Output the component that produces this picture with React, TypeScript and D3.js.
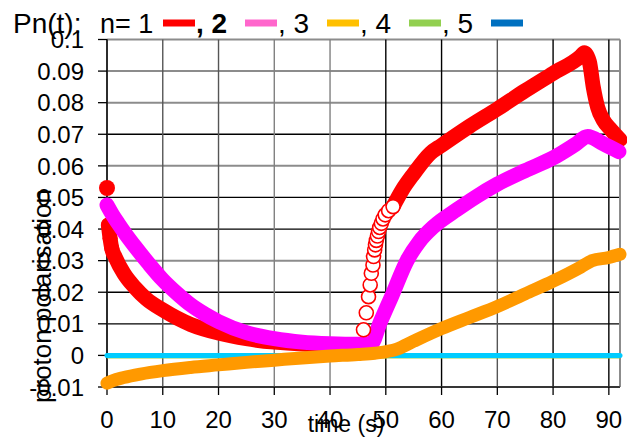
import React from "react";
import * as d3 from "d3";

// ---- data -------------------------------------------------------------
// n = 1 (red): first marker, continuous decay, fast recovery (hollow), rise & drop
const redStartTime = [0];
const redStartVal = [0.053];
const redDecayTime = [0.25, 0.55, 0.85, 1.5, 3, 5, 7, 10, 15, 20, 25, 30, 35, 40, 46];
const redDecayVal = [0.0413, 0.0371, 0.0339, 0.031, 0.026, 0.0215, 0.018, 0.0144, 0.0098, 0.0071, 0.0053, 0.0042, 0.0036, 0.0034, 0.0033];
const redHollowTime = [46.0, 46.5, 46.9, 47.2, 47.4, 47.7, 47.8, 48.0, 48.15, 48.3, 48.5, 48.7, 48.9, 49.2, 49.5, 49.9, 50.5, 51.3];
const redHollowVal = [0.0081, 0.0135, 0.0186, 0.0223, 0.026, 0.0286, 0.0313, 0.0334, 0.035, 0.0364, 0.0378, 0.0392, 0.0405, 0.0418, 0.0432, 0.0445, 0.0458, 0.0471];
const redRiseTime = [51.3, 53, 55, 58, 60, 65, 70, 75, 80, 85, 85.6, 86.5, 87.2, 88, 89, 90.4, 92];
const redRiseVal = [0.0471, 0.0525, 0.0575, 0.064, 0.0665, 0.0725, 0.078, 0.0838, 0.0893, 0.0948, 0.0958, 0.093, 0.085, 0.0785, 0.0745, 0.0714, 0.0683];

// n = 2 (magenta)
const pinkTime = [0, 1, 2, 3.5, 5, 7.5, 10, 12.5, 15, 17.5, 20, 25, 30, 35, 40, 45, 47.3, 49, 51, 53.8, 56, 58.6, 62.8, 66, 70, 75, 80, 84, 86.2, 89, 91.8];
const pinkVal = [0.0476, 0.0445, 0.0418, 0.038, 0.0345, 0.029, 0.0239, 0.0197, 0.016, 0.0131, 0.0107, 0.0072, 0.0053, 0.0042, 0.0037, 0.0035, 0.0035, 0.0105, 0.0185, 0.03, 0.036, 0.0408, 0.0462, 0.05, 0.0542, 0.0585, 0.0625, 0.0668, 0.0693, 0.067, 0.0645];

// n = 3 (orange)
const orangeTime = [0, 1, 3, 6, 10, 15, 20, 25, 30, 35, 40, 45, 48, 52, 55, 60, 65, 70, 75, 80, 85, 87, 90, 92];
const orangeVal = [-0.0088, -0.008, -0.007, -0.0059, -0.0048, -0.0038, -0.003, -0.0022, -0.0015, -0.0008, -0.0002, 0.0003, 0.0007, 0.002, 0.0045, 0.0085, 0.012, 0.0155, 0.0195, 0.0235, 0.028, 0.03, 0.031, 0.032];

// n = 4 (green) and n = 5 (cyan) stay at zero
const greenTime = [0, 92];
const greenVal = [-0.0002, -0.0002];
const cyanTime = [0, 92];
const cyanVal = [0, 0];

const xTicks = [0, 10, 20, 30, 40, 50, 60, 70, 80, 90];
const yTicks = [-0.01, 0, 0.01, 0.02, 0.03, 0.04, 0.05, 0.06, 0.07, 0.08, 0.09, 0.1];
const yTickLabels = ["-0.01", "0", "0.01", "0.02", "0.03", "0.04", "0.05", "0.06", "0.07", "0.08", "0.09", "0.1"];

const legendNames = ["1", "2", "3", "4", "5"];
const legendColors = ["#FF0000", "#FF66CC", "#FFC000", "#92D050", "#0070C0"];

// ---- layout -----------------------------------------------------------
const W = 627;
const H = 438;
const left = 107;
const right = 620;
const top = 39.5;
const bottom = 387;

const x = d3.scaleLinear().domain([0, 92]).range([left, right]);
const y = d3.scaleLinear().domain([-0.01, 0.1]).range([bottom, top]);

const zip = (t: number[], v: number[]) => t.map((d, i) => [d, v[i]] as [number, number]);
const line = d3
  .line<[number, number]>()
  .x((d) => x(d[0]))
  .y((d) => y(d[1]))
  .curve(d3.curveMonotoneX);
const lineLinear = d3
  .line<[number, number]>()
  .x((d) => x(d[0]))
  .y((d) => y(d[1]));

const grayH = new Set(["0.1", "0.09", "0.08", "0.06", "0.03", "0"]);
const vColor: Record<number, string> = { 10: "#555", 20: "#555", 30: "#808080", 40: "#808080", 70: "#555" };

const FONT = "'Liberation Sans', Arial, sans-serif";

export default function App() {
  return (
    <svg
      width={W}
      height={H}
      style={{ position: "absolute", left: 0, top: 0, background: "#fff" }}
      fontFamily={FONT}
    >
      {/* horizontal gridlines */}
      {yTicks.map((t, i) => {
        const gray = grayH.has(yTickLabels[i]);
        return (
          <line
            key={"h" + i}
            x1={left}
            x2={right}
            y1={y(t)}
            y2={y(t)}
            stroke={gray ? "#8c8c8c" : "#000"}
            strokeWidth={gray ? 2 : 1.3}
          />
        );
      })}
      {/* vertical gridlines */}
      {xTicks.map((t) => (
        <line
          key={"v" + t}
          x1={x(t)}
          x2={x(t)}
          y1={top}
          y2={bottom}
          stroke={vColor[t] ?? "#000"}
          strokeWidth={1.4}
        />
      ))}
      {/* right border */}
      <line x1={right} x2={right} y1={top} y2={bottom} stroke="#8c8c8c" strokeWidth={2} />

      {/* axes */}
      <line x1={left} x2={left} y1={top} y2={bottom} stroke="#222" strokeWidth={1.5} />
      <line x1={left} x2={right} y1={bottom} y2={bottom} stroke="#333" strokeWidth={1.5} />
      {yTicks.map((t, i) => (
        <line key={"yt" + i} x1={left - 9} x2={left} y1={y(t)} y2={y(t)} stroke="#000" strokeWidth={1.3} />
      ))}
      {xTicks.map((t) => (
        <line key={"xt" + t} x1={x(t)} x2={x(t)} y1={bottom} y2={bottom + 8} stroke="#000" strokeWidth={1.3} />
      ))}

      {/* series */}
      <path d={lineLinear(zip(greenTime, greenVal)) ?? ""} fill="none" stroke="#92D050" strokeWidth={5} />
      <path d={lineLinear(zip(cyanTime, cyanVal)) ?? ""} fill="none" stroke="#00CCFF" strokeWidth={5} strokeLinecap="round" />
      <path d={line(zip(redDecayTime, redDecayVal)) ?? ""} fill="none" stroke="#FF0000" strokeWidth={15} strokeLinecap="round" strokeLinejoin="round" />
      <path d={line(zip(redRiseTime, redRiseVal)) ?? ""} fill="none" stroke="#FF0000" strokeWidth={15} strokeLinecap="round" strokeLinejoin="round" />
      {zip(redDecayTime.slice(0, 3), redDecayVal.slice(0, 3)).map((d, i) => (
        <circle key={"rd" + i} cx={x(d[0])} cy={y(d[1])} r={7.5} fill="#FF0000" />
      ))}
      <path d={line(zip(pinkTime, pinkVal)) ?? ""} fill="none" stroke="#FF00FF" strokeWidth={15} strokeLinecap="round" strokeLinejoin="round" />
      <path d={line(zip(orangeTime, orangeVal)) ?? ""} fill="none" stroke="#FF9900" strokeWidth={13} strokeLinecap="round" strokeLinejoin="round" />
      {zip(redHollowTime, redHollowVal).map((d, i) => (
        <circle key={"rh" + i} cx={x(d[0])} cy={y(d[1])} r={7} fill="#fff" stroke="#FF0000" strokeWidth={1.6} />
      ))}
      {zip(redStartTime, redStartVal).map((d, i) => (
        <circle key={"rs" + i} cx={x(d[0])} cy={y(d[1])} r={8} fill="#FF0000" />
      ))}

      {/* tick labels */}
      {yTicks.map((t, i) => (
        <text key={"yl" + i} x={84} y={y(t)} dy="0.36em" textAnchor="end" fontSize={24} fill="#000">
          {yTickLabels[i]}
        </text>
      ))}
      {xTicks.map((t) => (
        <text key={"xl" + t} x={x(t)} y={428} textAnchor="middle" fontSize={24} fill="#000">
          {t}
        </text>
      ))}

      {/* axis titles */}
      <text x={346} y={432} textAnchor="middle" fontSize={23} fill="#000">
        time (s)
      </text>
      <text
        transform={`translate(51, 296) rotate(-90)`}
        textAnchor="middle"
        fontSize={26}
        fill="#000"
      >
        proton polarisation
      </text>

      {/* legend */}
      <text x={13} y={33} fontSize={28} fill="#000">
        Pn(t):
      </text>
      <text x={100} y={33} fontSize={27} fill="#000">
        n= 1
      </text>
      {legendNames.map((n, i) => {
        const bx = 163 + i * 82;
        return (
          <g key={"lg" + i}>
            <line x1={bx} x2={bx + 32} y1={23} y2={23} stroke={legendColors[i]} strokeWidth={7} />
            {i < 4 && (
              <text x={bx + 33} y={33} fontSize={28} fontWeight={i === 0 ? "bold" : "normal"} fill="#000">
                {", " + legendNames[i + 1]}
              </text>
            )}
          </g>
        );
      })}
    </svg>
  );
}
